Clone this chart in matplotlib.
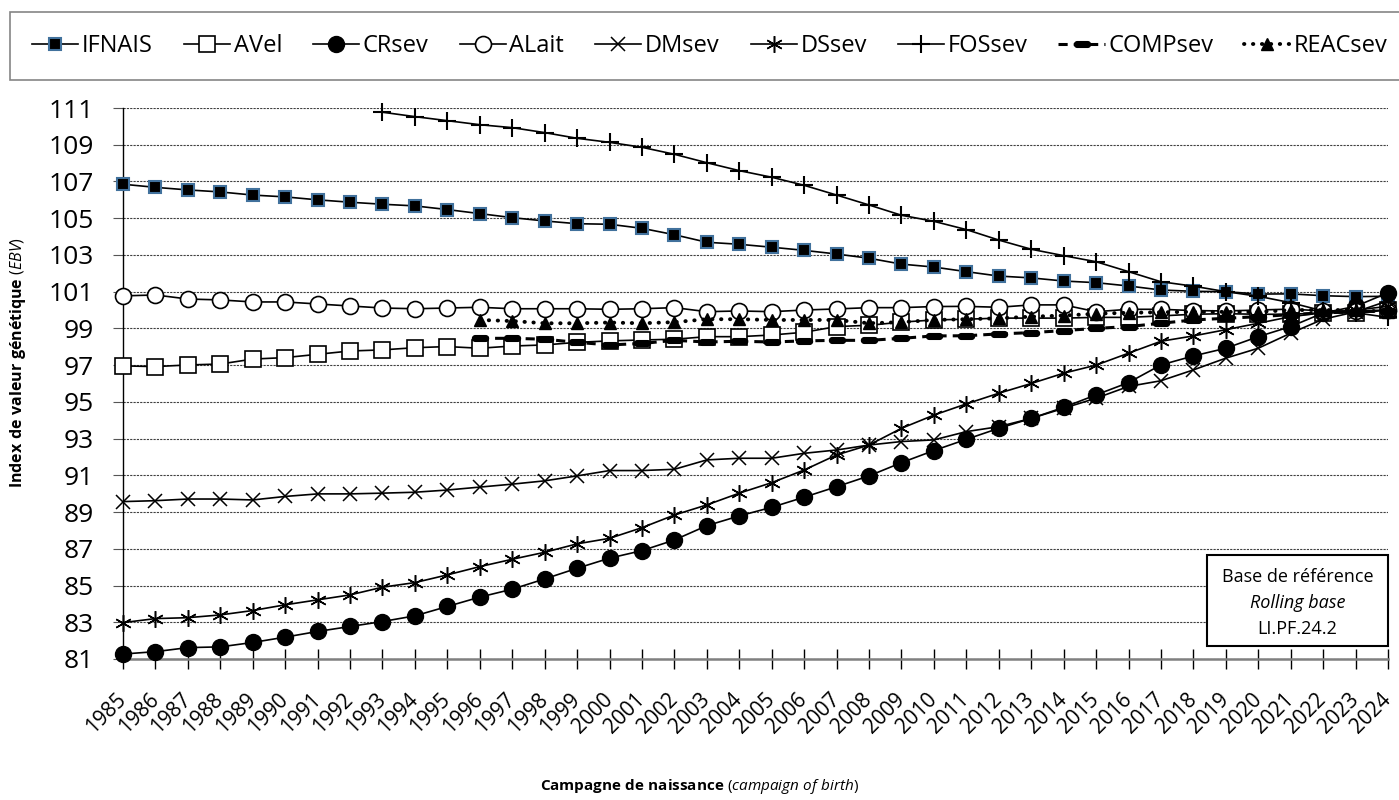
import numpy as np
import matplotlib
matplotlib.use("Agg")
import matplotlib.pyplot as plt
from matplotlib.path import Path
from matplotlib.patches import Rectangle

# ---------------- data ----------------
years = list(range(1985, 2025))
years_fos = list(range(1993, 2025))
years_96 = list(range(1996, 2025))

IFNAIS = [106.85, 106.68, 106.54, 106.43, 106.26, 106.16, 106.0, 105.87, 105.76, 105.67,
          105.47, 105.25, 105.03, 104.85, 104.7, 104.67, 104.45, 104.1, 103.69, 103.58,
          103.42, 103.25, 103.05, 102.82, 102.5, 102.34, 102.09, 101.85, 101.75, 101.58,
          101.49, 101.31, 101.09, 101.02, 101.0, 100.87, 100.88, 100.78, 100.73, 100.75]
AVel = [96.96, 96.92, 97.01, 97.06, 97.33, 97.41, 97.59, 97.77, 97.83, 97.95,
        98.01, 97.92, 98.04, 98.1, 98.24, 98.32, 98.37, 98.41, 98.55, 98.55,
        98.64, 98.79, 99.1, 99.17, 99.34, 99.46, 99.5, 99.56, 99.56, 99.56,
        99.6, 99.6, 99.68, 99.77, 99.8, 99.77, 99.77, 99.85, 99.83, 100.0]
CRsev = [81.27, 81.4, 81.62, 81.66, 81.9, 82.19, 82.5, 82.77, 83.04, 83.35,
         83.86, 84.37, 84.8, 85.36, 85.94, 86.49, 86.9, 87.48, 88.26, 88.79,
         89.26, 89.81, 90.38, 90.97, 91.69, 92.35, 92.96, 93.56, 94.1, 94.7,
         95.38, 96.05, 97.01, 97.5, 97.92, 98.55, 99.1, 99.84, 100.2, 100.94]
ALait = [100.77, 100.82, 100.6, 100.55, 100.44, 100.44, 100.33, 100.22, 100.11, 100.07,
         100.11, 100.15, 100.07, 100.07, 100.07, 100.04, 100.07, 100.13, 99.91, 99.95,
         99.91, 100.0, 100.06, 100.13, 100.13, 100.19, 100.2, 100.15, 100.28, 100.28,
         99.91, 100.04, 100.04, 99.97, 99.95, 100.0, 100.05, 99.95, 99.95, 100.0]
DMsev = [89.57, 89.62, 89.71, 89.71, 89.66, 89.85, 89.99, 89.99, 90.03, 90.08,
         90.2, 90.36, 90.52, 90.7, 90.97, 91.26, 91.26, 91.33, 91.84, 91.93,
         91.93, 92.2, 92.38, 92.65, 92.84, 92.93, 93.38, 93.65, 94.1, 94.65,
         95.2, 95.84, 96.15, 96.74, 97.38, 97.92, 98.74, 99.5, 99.9, 100.5]
DSsev = [82.98, 83.2, 83.25, 83.4, 83.64, 83.95, 84.22, 84.49, 84.91, 85.16,
         85.58, 86.03, 86.43, 86.81, 87.27, 87.57, 88.15, 88.84, 89.39, 90.03,
         90.6, 91.29, 92.11, 92.65, 93.56, 94.28, 94.89, 95.47, 96.0, 96.56,
         97.0, 97.65, 98.3, 98.59, 98.93, 99.28, 99.64, 99.85, 100.0, 100.2]
FOSsev = [110.77, 110.53, 110.31, 110.09, 109.93, 109.66, 109.35, 109.13, 108.86, 108.48,
          108.02, 107.59, 107.23, 106.79, 106.26, 105.72, 105.16, 104.83, 104.38, 103.81,
          103.31, 102.96, 102.63, 102.09, 101.54, 101.3, 101.0, 100.75, 100.4, 99.95,
          99.85, 99.6]
COMPsev = [98.46, 98.46, 98.41, 98.24, 98.1, 98.18, 98.35, 98.26, 98.3, 98.26,
           98.32, 98.35, 98.35, 98.46, 98.59, 98.6, 98.7, 98.77, 98.88, 99.0,
           99.1, 99.28, 99.46, 99.55, 99.64, 99.75, 99.85, 99.9, 99.95]
REACsev = [99.46, 99.4, 99.28, 99.28, 99.32, 99.28, 99.34, 99.5, 99.5, 99.46,
           99.46, 99.46, 99.28, 99.34, 99.46, 99.5, 99.55, 99.64, 99.7, 99.8,
           99.85, 99.88, 99.9, 99.9, 99.9, 100.0, 100.0, 100.0, 99.9]

yticks = list(range(81, 112, 2))
ylabel_bold = "Index de valeur génétique"
ylabel_it = "(EBV)"
xlabel_bold = "Campagne de naissance"
xlabel_it = "(campaign of birth)"
box_lines = ["Base de référence", "Rolling base", "LI.PF.24.2"]

# ---------------- style ----------------
FONT = "Open Sans"
plt.rcParams['font.family'] = [FONT, 'DejaVu Sans']
plt.rcParams['mathtext.fontset'] = 'custom'
plt.rcParams['mathtext.rm'] = FONT
plt.rcParams['mathtext.bf'] = FONT + ':bold'
plt.rcParams['mathtext.it'] = FONT + ':italic'

W, H = 1399, 800
fig = plt.figure(figsize=(W / 100, H / 100), dpi=100)
L, R, T, B = 123, 1388, 108, 659
ax = fig.add_axes([L / W, 1 - B / H, (R - L) / W, (B - T) / H])

# capsule marker for COMPsev
th = np.linspace(-np.pi / 2, np.pi / 2, 12)
right = np.column_stack([1.0 + 0.55 * np.cos(th), 0.55 * np.sin(th)])
left = np.column_stack([-1.0 - 0.55 * np.cos(th), -0.55 * np.sin(th)])
capsule = Path(np.vstack([right, left, right[:1]]), closed=True)

lw = 1.2
common = dict(color='black', lw=lw, clip_on=False)
ax.plot(years, IFNAIS, marker='s', ms=8, mfc='black', mec='#41719C', mew=1.5,
        label='IFNAIS', zorder=3, **common)
ax.plot(years, AVel, marker='s', ms=11, mfc='white', mec='black', mew=1.2,
        label='AVel', zorder=3, **common)
ax.plot(years, CRsev, marker='o', ms=11.5, mfc='black', mec='black',
        label='CRsev', zorder=3, **common)
ax.plot(years, ALait, marker='o', ms=11.5, mfc='white', mec='black', mew=1.2,
        label='ALait', zorder=3, **common)
ax.plot(years, DMsev, marker='x', ms=10, mec='black', mew=1.1,
        label='DMsev', zorder=3, **common)
ax.plot(years, DSsev, marker=(6, 2, 0), ms=12, mec='black', mew=1.1,
        label='DSsev', zorder=3, **common)
ax.plot(years_fos, FOSsev, marker='+', ms=13, mec='black', mew=1.5,
        label='FOSsev', zorder=3, **common)
ax.plot(years_96, COMPsev, marker=capsule, ms=11.5, mfc='black', mec='black',
        ls=(0, (3, 2)), label='COMPsev', zorder=3, color='black', lw=2.2, clip_on=False)
ax.plot(years_96, REACsev, marker='^', ms=9, mfc='black', mec='black',
        ls=(0, (0.1, 2.2)), dash_capstyle='round', label='REACsev', zorder=3,
        color='black', lw=2.8, clip_on=False)

ax.set_xlim(1985, 2024)
ax.set_ylim(81, 111)
ax.set_yticks(yticks)
ax.set_xticks(years)
ax.set_xticklabels([str(y) for y in years], rotation=45, ha='right', va='center',
                   rotation_mode='anchor', fontsize=15)
ax.tick_params(axis='y', labelsize=19, length=7, width=0.8, color='#555555', pad=14)
ax.tick_params(axis='x', direction='inout', length=14, width=1, color='black', pad=20)

ax.grid(axis='y', color='#404040', ls=(0, (2, 1)), lw=0.8, zorder=0)
ax.set_axisbelow(True)
for s in ['top', 'right']:
    ax.spines[s].set_visible(False)
ax.spines['left'].set_color('black')
ax.spines['left'].set_linewidth(1.0)
ax.spines['bottom'].set_color('#808080')
ax.spines['bottom'].set_linewidth(1.8)

# annotation box
bx0, bx1, by0, by1 = 1207, 1388, 555, 646
ax.add_patch(Rectangle(((bx0 - L) / (R - L), (B - by1) / (B - T)),
                       (bx1 - bx0) / (R - L), (by1 - by0) / (B - T),
                       transform=ax.transAxes, facecolor='white', edgecolor='black',
                       lw=1.5, zorder=5, clip_on=False))
cx = (bx0 + bx1) / 2 / W
for i, (txt, yy) in enumerate(zip(box_lines, [577, 603, 629])):
    fig.text(cx, 1 - yy / H, txt, ha='center', va='center', fontsize=13,
             style='italic' if i == 1 else 'normal', zorder=6)

# axis titles
fig.text(18 / W, 1 - 362 / H,
         r"$\bf{" + ylabel_bold.replace(" ", r"\ ") + r"}$ $\it{" + ylabel_it + "}$",
         rotation=90, ha='center', va='center', fontsize=11.5)
fig.text(0.5, 1 - 787 / H,
         r"$\bf{" + xlabel_bold.replace(" ", r"\ ") + r"}$ $\it{" + xlabel_it.replace(" ", r"\ ") + "}$",
         ha='center', va='center', fontsize=11)

# legend
leg = fig.legend(loc='center left', bbox_to_anchor=(10 / W, 1 - 82 / H, 1400 / W, 72 / H),
                 mode='expand', ncol=9, fontsize=17, handlelength=1.95, handletextpad=0.15,
                 borderpad=0.95, frameon=True, fancybox=False, borderaxespad=0,
                 columnspacing=0.5)
leg.get_frame().set_edgecolor('#666666')
leg.get_frame().set_linewidth(1.2)

fig.savefig("out.png", dpi=100)
